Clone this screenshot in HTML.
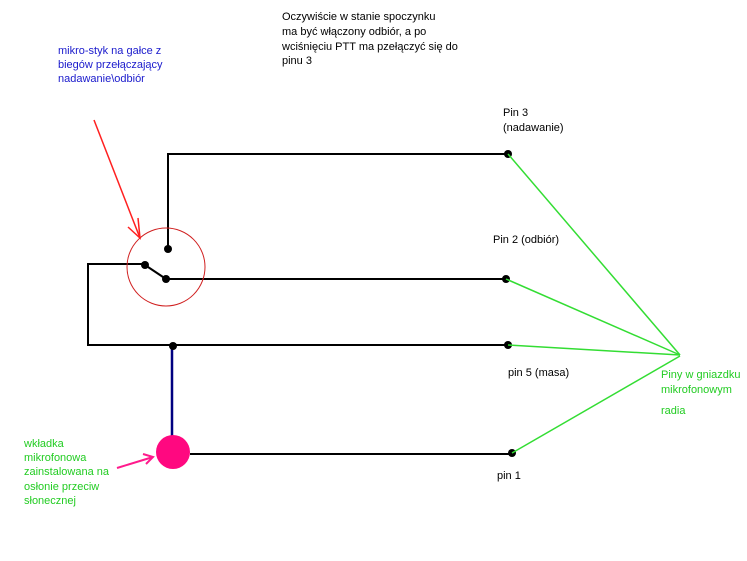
<!DOCTYPE html>
<html><head><meta charset="utf-8"><style>
html,body{margin:0;padding:0;background:#fff;width:747px;height:561px;overflow:hidden}
text{font-family:"Liberation Sans",Arial,sans-serif;font-size:11px}
</style></head><body>
<svg width="747" height="561" xmlns="http://www.w3.org/2000/svg">
<rect width="747" height="561" fill="#fff"/>
<g stroke="#000" stroke-width="2" fill="none">
<polyline points="168,248 168,154 508,154"/>
<line x1="166" y1="279" x2="508" y2="279"/>
<line x1="145" y1="265" x2="166" y2="279"/>
<polyline points="145,264 88,264 88,345 508,345"/>
<line x1="190" y1="454" x2="512" y2="454"/>
</g>
<line x1="172" y1="346" x2="172" y2="440" stroke="#000080" stroke-width="2.5"/>
<circle cx="166" cy="267" r="39" stroke="#d02020" stroke-width="1" fill="none"/>
<g fill="#000">
<circle cx="168" cy="249" r="4"/><circle cx="145" cy="265" r="4"/><circle cx="166" cy="279" r="4"/>
<circle cx="173" cy="346" r="4"/><circle cx="508" cy="154" r="4"/><circle cx="506" cy="279" r="4"/>
<circle cx="508" cy="345" r="4"/><circle cx="512" cy="453" r="4"/>
</g>
<ellipse cx="173" cy="452" rx="17" ry="17" fill="#ff0880"/>
<g stroke="#33dd33" stroke-width="1.5">
<line x1="508" y1="154" x2="680" y2="355"/>
<line x1="506" y1="279" x2="680" y2="355"/>
<line x1="508" y1="345" x2="680" y2="355"/>
<line x1="512" y1="453" x2="680" y2="356"/>
</g>
<g stroke="#ff2020" stroke-width="1.5" fill="none">
<line x1="94" y1="120" x2="140" y2="238"/>
<polyline points="138,218 140,238 128,227"/>
</g>
<g stroke="#ff1a8c" stroke-width="2" fill="none">
<line x1="117" y1="468" x2="153" y2="457"/>
<polyline points="143,454 153,457 146,464"/>
</g>
<g fill="#000">
<text x="282" y="20">Oczywiście w stanie spoczynku</text>
<text x="282" y="35">ma być włączony odbiór, a po</text>
<text x="282" y="50">wciśnięciu PTT ma pzełączyć się do</text>
<text x="282" y="64">pinu 3</text>
<text x="503" y="116">Pin 3</text>
<text x="503" y="131">(nadawanie)</text>
<text x="493" y="243">Pin 2 (odbiór)</text>
<text x="508" y="376">pin 5 (masa)</text>
<text x="497" y="479">pin 1</text>
</g>
<g fill="#1a1acc">
<text x="58" y="54">mikro-styk na gałce z</text>
<text x="58" y="68">biegów przełączający</text>
<text x="58" y="82">nadawanie\odbiór</text>
</g>
<g fill="#22cc22">
<text x="661" y="378">Piny w gniazdku</text>
<text x="661" y="393">mikrofonowym</text>
<text x="661" y="414">radia</text>
<text x="24" y="447">wkładka</text>
<text x="24" y="461">mikrofonowa</text>
<text x="24" y="475">zainstalowana na</text>
<text x="24" y="490">osłonie przeciw</text>
<text x="24" y="504">słonecznej</text>
</g>
</svg>
</body></html>
